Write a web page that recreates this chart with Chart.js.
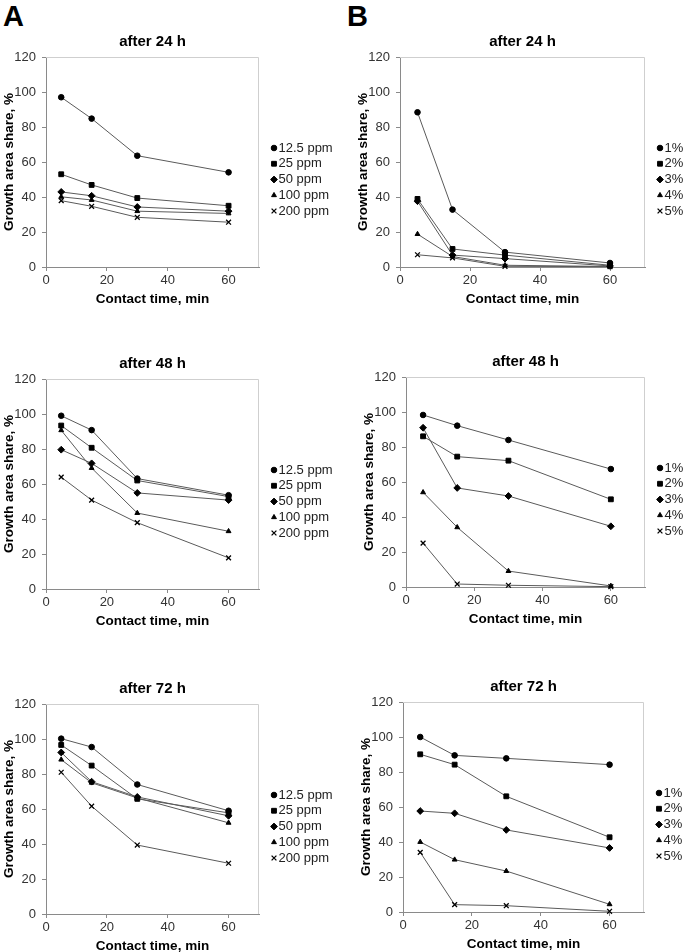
<!DOCTYPE html>
<html>
<head>
<meta charset="utf-8">
<script src="https://cdn.jsdelivr.net/npm/chart.js@4.4.1/dist/chart.umd.min.js"></script>
<style>
  html, body { margin: 0; padding: 0; background: #fff; width: 685px; height: 952px; overflow: hidden; }
  body { position: relative; font-family: "Liberation Sans", Arial, sans-serif; }
  canvas { position: absolute; }
  .tag { position: absolute; font-size: 29px; font-weight: bold; line-height: 1; color: #000; }
  #a24 { left: 1px; top: 23px; }
  #a48 { left: 1px; top: 345px; }
  #a72 { left: 1px; top: 670px; }
  #b24 { left: 355px; top: 23px; }
  #b48 { left: 361px; top: 343px; }
  #b72 { left: 358px; top: 668px; }
</style>
</head>
<body>
<div class="tag" style="left:3px; top:2px;">A</div>
<div class="tag" style="left:347px; top:2px;">B</div>
<canvas id="a24" width="338" height="288"></canvas>
<canvas id="a48" width="338" height="288"></canvas>
<canvas id="a72" width="338" height="288"></canvas>
<canvas id="b24" width="330" height="288"></canvas>
<canvas id="b48" width="324" height="288"></canvas>
<canvas id="b72" width="326" height="288"></canvas>
<script>
// contact times (min) and axis ticks
const contactTime = [5, 15, 30, 60];
const xTicks = [0, 20, 40, 60];
const yTicks = [0, 20, 40, 60, 80, 100, 120];

const ppmLabels = ['12.5 ppm', '25 ppm', '50 ppm', '100 ppm', '200 ppm'];
const pctLabels = ['1%', '2%', '3%', '4%', '5%'];

// A - after 24 h
const a24_125 = [97, 84.8, 63.6, 54.1];
const a24_25 = [53, 46.9, 39.4, 35];
const a24_50 = [42.9, 40.7, 34.3, 31.9];
const a24_100 = [40.1, 38.3, 31.9, 30.6];
const a24_200 = [37.9, 34.7, 28.4, 25.6];
// A - after 48 h
const a48_125 = [99, 90.8, 63.1, 53.6];
const a48_25 = [93.4, 80.7, 62, 52.8];
const a48_50 = [79.6, 71.8, 54.9, 50.8];
const a48_100 = [90.7, 69.1, 43.4, 33];
const a48_200 = [63.9, 50.8, 37.9, 17.8];
// A - after 72 h
const a72_125 = [100.2, 95.4, 74, 59];
const a72_25 = [96.6, 84.8, 65.8, 57.8];
const a72_50 = [92.3, 75.6, 66.9, 56.1];
const a72_100 = [88.2, 75, 66.3, 52.1];
const a72_200 = [81, 61.6, 39.4, 29];

// B - after 24 h
const b24_1 = [88.4, 32.8, 8.5, 2.3];
const b24_2 = [38.9, 10.3, 6.8, 1];
const b24_3 = [37.6, 6.8, 4.8, 0.6];
const b24_4 = [18.8, 6, 1, 0.3];
const b24_5 = [7, 5.2, 0.4, 0.2];
// B - after 48 h
const b48_1 = [98.3, 92.2, 84, 67.4];
const b48_2 = [86.1, 74.5, 72.2, 50.1];
const b48_3 = [91, 56.6, 52, 34.7];
const b48_4 = [54.1, 34.1, 9.1, 0.6];
const b48_5 = [25.1, 1.7, 1, 0.2];
// B - after 72 h
const b72_1 = [100, 89.5, 87.8, 84.2];
const b72_2 = [90.1, 84.2, 66.1, 42.7];
const b72_3 = [57.7, 56.4, 46.9, 36.6];
const b72_4 = [40, 29.9, 23.4, 4.4];
const b72_5 = [34.1, 4.2, 3.6, 0.4];

Chart.defaults.font.family = '"Liberation Sans", Arial, sans-serif';
Chart.defaults.color = '#333';

const markers = [
  { pointStyle: 'circle', radius: 2.8, border: 1 },
  { pointStyle: 'rect', radius: 3.4, border: 1 },
  { pointStyle: 'rectRot', radius: 3.4, border: 1 },
  { pointStyle: 'triangle', radius: 2.8, border: 1 },
  { pointStyle: 'crossRot', radius: 3.4, border: 1.3 }
];

// light frame on top and right of the plot area
const frame = {
  id: 'frame',
  beforeDatasetsDraw(chart) {
    const { ctx, chartArea: a } = chart;
    ctx.save();
    ctx.strokeStyle = '#cfcfcf';
    ctx.lineWidth = 1;
    ctx.beginPath();
    ctx.moveTo(a.left, a.top + 0.5);
    ctx.lineTo(a.right - 0.5, a.top + 0.5);
    ctx.lineTo(a.right - 0.5, a.bottom);
    ctx.stroke();
    ctx.restore();
  }
};

// legend to the right of the plot, markers + labels
const sideLegend = {
  id: 'sideLegend',
  afterDraw(chart) {
    const { ctx, chartArea: a } = chart;
    ctx.save();
    ctx.font = '13px "Liberation Sans", Arial, sans-serif';
    ctx.textBaseline = 'middle';
    ctx.textAlign = 'left';
    chart.data.datasets.forEach((ds, i) => {
      const y = a.top + 91 + i * 15.75;
      const x = a.right + 15;
      ctx.fillStyle = '#000';
      ctx.strokeStyle = '#000';
      ctx.lineWidth = ds.pointBorderWidth;
      Chart.helpers.drawPoint(ctx, { pointStyle: ds.pointStyle, radius: ds.pointRadius, borderWidth: ds.pointBorderWidth }, x, y);
      ctx.fillStyle = '#222';
      ctx.fillText(ds.label, x + 4.5, y);
    });
    ctx.restore();
  }
};

function makePanel(id, title, labels, series, padRight) {
  const datasets = labels.map((lab, i) => ({
    label: lab,
    data: contactTime.map((t, j) => ({ x: t, y: series[i][j] })),
    borderColor: '#5a5a5a',
    borderWidth: 1,
    pointStyle: markers[i].pointStyle,
    pointRadius: markers[i].radius,
    pointBorderWidth: markers[i].border,
    pointBackgroundColor: '#000',
    pointBorderColor: '#000',
    showLine: true,
    clip: false
  }));
  new Chart(document.getElementById(id), {
    type: 'scatter',
    data: { datasets },
    options: {
      responsive: false,
      animation: false,
      devicePixelRatio: 1,
      layout: { padding: { left: 0, top: 10, right: padRight, bottom: 0 } },
      plugins: {
        legend: { display: false },
        tooltip: { enabled: false },
        title: {
          display: true,
          text: title,
          fullSize: false,
          color: '#000',
          font: { size: 15, weight: 'bold' },
          padding: { top: 0, bottom: 6 }
        }
      },
      scales: {
        x: {
          type: 'linear',
          min: 0,
          max: 70,
          afterBuildTicks: s => { s.ticks = xTicks.map(v => ({ value: v })); },
          afterFit: s => { s.height = 44; },
          grid: { display: true, drawOnChartArea: false, drawTicks: true, tickLength: 4, color: '#8a8a8a' },
          border: { display: true, color: '#8a8a8a', width: 1 },
          ticks: { padding: 2, font: { size: 13 }, color: '#333' },
          title: {
            display: true,
            text: 'Contact time, min',
            color: '#000',
            font: { size: 13.5, weight: 'bold' },
            padding: { top: 0, bottom: 4 }
          }
        },
        y: {
          min: 0,
          max: 120,
          afterBuildTicks: s => { s.ticks = yTicks.map(v => ({ value: v })); },
          afterFit: s => { s.width = 45; },
          grid: { display: true, drawOnChartArea: false, drawTicks: true, tickLength: 4, color: '#8a8a8a' },
          border: { display: true, color: '#8a8a8a', width: 1 },
          ticks: { padding: 6, font: { size: 13 }, color: '#333' },
          title: {
            display: true,
            text: 'Growth area share, %',
            color: '#000',
            font: { size: 13.5, weight: 'bold' },
            padding: { top: 0, bottom: 0 }
          }
        }
      }
    },
    plugins: [frame, sideLegend]
  });
}

makePanel('a24', 'after 24 h', ppmLabels, [a24_125, a24_25, a24_50, a24_100, a24_200], 80);
makePanel('a48', 'after 48 h', ppmLabels, [a48_125, a48_25, a48_50, a48_100, a48_200], 80);
makePanel('a72', 'after 72 h', ppmLabels, [a72_125, a72_25, a72_50, a72_100, a72_200], 80);
makePanel('b24', 'after 24 h', pctLabels, [b24_1, b24_2, b24_3, b24_4, b24_5], 40);
makePanel('b48', 'after 48 h', pctLabels, [b48_1, b48_2, b48_3, b48_4, b48_5], 40);
makePanel('b72', 'after 72 h', pctLabels, [b72_1, b72_2, b72_3, b72_4, b72_5], 40);
</script>
</body>
</html>
